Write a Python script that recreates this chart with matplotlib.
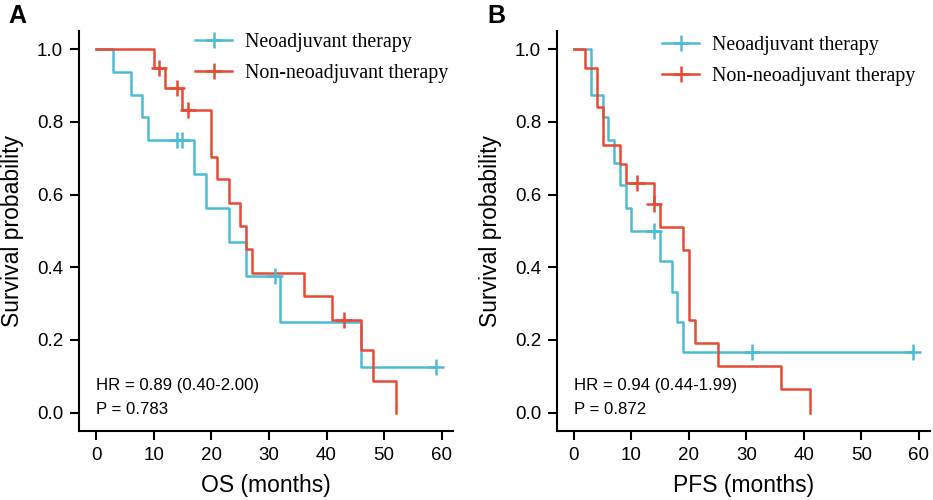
import numpy as np
import matplotlib
matplotlib.use('Agg')
import matplotlib.pyplot as plt
from matplotlib.lines import Line2D

# colours (npg palette)
BLUE = '#4DBBD5'
RED = '#E64B35'

# OS data: step times and survival after each step
os_neo_t = [0, 3, 6, 8, 9, 17, 19, 23, 26, 32, 46, 59]
os_neo_s = [1.0, 0.9375, 0.875, 0.8125, 0.75, 0.656, 0.562, 0.469, 0.375, 0.25, 0.125, 0.125]
os_neo_cens = [14, 15, 31, 59]

os_non_t = [0, 10, 12, 15, 20, 21, 23, 25, 26, 27, 36, 41, 46, 48, 52]
os_non_s = [1.0, 0.947, 0.894, 0.833, 0.704, 0.643, 0.578, 0.513, 0.45, 0.385, 0.321, 0.256, 0.172, 0.086, 0.0]
os_non_cens = [11, 14, 16, 43]

# PFS data
pfs_neo_t = [0, 3, 5, 6, 7, 8, 9, 10, 15, 17, 18, 19, 59]
pfs_neo_s = [1.0, 0.875, 0.8125, 0.75, 0.6875, 0.625, 0.5625, 0.5, 0.417, 0.333, 0.25, 0.167, 0.167]
pfs_neo_cens = [14, 31, 59]

pfs_non_t = [0, 2, 4, 5, 8, 9, 14, 15, 19, 20, 21, 25, 36, 41]
pfs_non_s = [1.0, 0.947, 0.842, 0.737, 0.684, 0.632, 0.574, 0.511, 0.447, 0.255, 0.192, 0.128, 0.064, 0.0]
pfs_non_cens = [11, 14]

group_labels = ['Neoadjuvant therapy', 'Non-neoadjuvant therapy']
x_ticks = [0, 10, 20, 30, 40, 50, 60]
y_ticks = [0.0, 0.2, 0.4, 0.6, 0.8, 1.0]

SANS = 'Liberation Sans'
SERIF = 'Liberation Serif'
LW = 1.8


def draw_km(ax, t, s, cens, color):
    t = np.asarray(t, float)
    s = np.asarray(s, float)
    ax.step(t, s, where='post', color=color, lw=LW, zorder=3)
    idx = np.searchsorted(t, cens, side='right') - 1
    ax.plot(cens, s[idx], ls='none', marker='+', ms=11, mew=LW,
            color=color, zorder=4)


def style_axis(ax, xlabel):
    ax.set_xlim(-2.95, 61.95)
    ax.set_ylim(-0.05, 1.05)
    ax.set_xticks(x_ticks)
    ax.set_yticks(y_ticks)
    ax.set_yticklabels(['%.1f' % v for v in y_ticks])
    for side in ['top', 'right']:
        ax.spines[side].set_visible(False)
    for side in ['left', 'bottom']:
        ax.spines[side].set_linewidth(1.5)
    ax.tick_params(length=6.5, width=1.5, pad=5, labelsize=13.5,
                   direction='out')
    for lab in ax.get_xticklabels() + ax.get_yticklabels():
        lab.set_fontfamily(SANS)
    ax.set_xlabel(xlabel, fontsize=16.5, family=SANS, va='center')
    ax.set_ylabel('Survival probability', fontsize=16.5, family=SANS, va='center')
    ax.xaxis.set_label_coords(0.5, -0.136)
    ax.yaxis.set_label_coords(-0.177, 0.5)


fig = plt.figure(figsize=(9.33, 5.0), dpi=100)
ax1 = fig.add_axes([0.0847, 0.1386, 0.4009, 0.7994])
ax2 = fig.add_axes([0.597, 0.1386, 0.3998, 0.7994])

# Panel A -------------------------------------------------------------
draw_km(ax1, os_neo_t, os_neo_s, os_neo_cens, BLUE)
draw_km(ax1, os_non_t, os_non_s, os_non_cens, RED)
style_axis(ax1, 'OS (months)')
ax1.text(0, 0.075, 'HR = 0.89 (0.40-2.00)', fontsize=12.1, family=SANS, va='center')
ax1.text(0, 0.009, 'P = 0.783', fontsize=12.1, family=SANS, va='center')

# Panel B -------------------------------------------------------------
draw_km(ax2, pfs_neo_t, pfs_neo_s, pfs_neo_cens, BLUE)
draw_km(ax2, pfs_non_t, pfs_non_s, pfs_non_cens, RED)
style_axis(ax2, 'PFS (months)')
ax2.text(0, 0.075, 'HR = 0.94 (0.44-1.99)', fontsize=12.1, family=SANS, va='center')
ax2.text(0, 0.009, 'P = 0.872', fontsize=12.1, family=SANS, va='center')

# legends
handles = [Line2D([], [], color=BLUE, lw=LW, marker='+', ms=11, mew=LW),
           Line2D([], [], color=RED, lw=LW, marker='+', ms=11, mew=LW)]
for anchor in [(195 / 933, 1 - 33 / 500), (662 / 933, 1 - 36 / 500)]:
    fig.legend(handles, group_labels, loc='upper left', bbox_to_anchor=anchor,
               bbox_transform=fig.transFigure, frameon=False,
               prop={'family': SERIF, 'size': 14.4}, handlelength=1.85,
               handletextpad=0.65, labelspacing=0.6, borderpad=0,
               borderaxespad=0)

fig.text(8 / 933, 1 - 16 / 500, 'A', fontsize=18, fontweight='bold', family=SANS, va='center')
fig.text(487 / 933, 1 - 16 / 500, 'B', fontsize=18, fontweight='bold', family=SANS, va='center')

fig.savefig('out.png', dpi=100)
